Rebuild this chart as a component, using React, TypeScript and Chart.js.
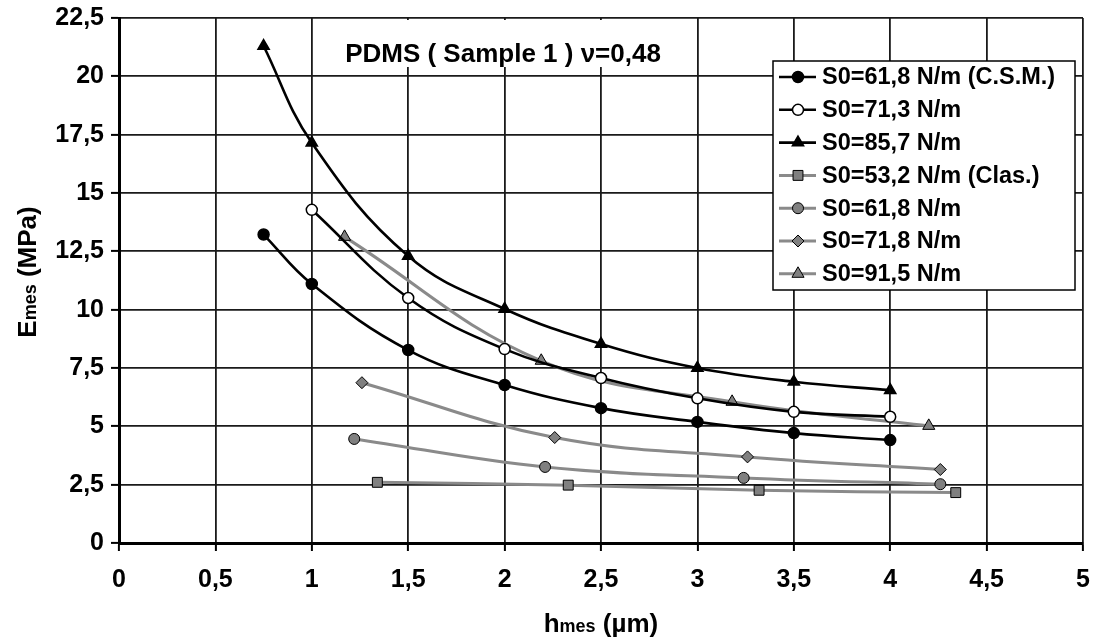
import React, { useEffect, useRef } from 'react';
import { Chart, registerables } from 'chart.js';

Chart.register(...registerables);

// ---- Data ----
const s1X = [0.75, 1, 1.5, 2, 2.5, 3, 3.5, 4];
const s1Y = [13.22, 11.1, 8.27, 6.77, 5.78, 5.19, 4.71, 4.41];
const s2X = [1, 1.5, 2, 2.5, 3, 3.5, 4];
const s2Y = [14.28, 10.5, 8.31, 7.07, 6.2, 5.62, 5.41];
const s3X = [0.75, 1, 1.5, 2, 2.5, 3, 3.5, 4];
const s3Y = [21.3, 17.15, 12.3, 10.03, 8.53, 7.5, 6.91, 6.55];
const s4X = [1.34, 2.33, 3.32, 4.34];
const s4Y = [2.6, 2.48, 2.26, 2.16];
const s5X = [1.22, 2.21, 3.24, 4.26];
const s5Y = [4.46, 3.26, 2.79, 2.52];
const s6X = [1.26, 2.26, 3.26, 4.26];
const s6Y = [6.87, 4.52, 3.69, 3.15];
const s7X = [1.17, 2.19, 3.18, 4.2];
const s7Y = [13.12, 7.81, 6.05, 5.02];

const seriesLabels = [
  'S0=61,8 N/m (C.S.M.)',
  'S0=71,3 N/m',
  'S0=85,7 N/m',
  'S0=53,2 N/m (Clas.)',
  'S0=61,8 N/m',
  'S0=71,8 N/m',
  'S0=91,5 N/m',
];

const xTickLabels = ['0', '0,5', '1', '1,5', '2', '2,5', '3', '3,5', '4', '4,5', '5'];
const yTickLabels = ['0', '2,5', '5', '7,5', '10', '12,5', '15', '17,5', '20', '22,5'];

const chartTitle = 'PDMS ( Sample 1 ) \u03bd=0,48';
const xTitleMain = 'h';
const xTitleSub = 'mes';
const xTitleRest = ' (\u00b5m)';
const yTitleMain = 'E';
const yTitleSub = 'mes';
const yTitleRest = ' (MPa)';

const zip = (xs: number[], ys: number[]) => xs.map((x, i) => ({ x, y: ys[i] }));

const FONT = '"Liberation Sans", Arial, sans-serif';
const BLACK = '#000000';
const GRAY_LINE = '#8a8a8a';
const GRAY_FILL = '#808080';

type Style = {
  line: string;
  lineWidth: number;
  fill: string;
  shape: 'circle' | 'triangle' | 'rect' | 'rectRot';
  radius: number;
};

const styles: Style[] = [
  { line: BLACK, lineWidth: 2.6, fill: BLACK, shape: 'circle', radius: 5.5 },
  { line: BLACK, lineWidth: 2.6, fill: '#ffffff', shape: 'circle', radius: 5.5 },
  { line: BLACK, lineWidth: 2.6, fill: BLACK, shape: 'triangle', radius: 6.5 },
  { line: GRAY_LINE, lineWidth: 3, fill: GRAY_FILL, shape: 'rect', radius: 7 },
  { line: GRAY_LINE, lineWidth: 3, fill: GRAY_FILL, shape: 'circle', radius: 5.5 },
  { line: GRAY_LINE, lineWidth: 3, fill: GRAY_FILL, shape: 'rectRot', radius: 6 },
  { line: GRAY_LINE, lineWidth: 3, fill: GRAY_FILL, shape: 'triangle', radius: 7 },
];

function drawMarker(ctx: CanvasRenderingContext2D, shape: string, x: number, y: number, r: number) {
  ctx.beginPath();
  if (shape === 'circle') {
    ctx.arc(x, y, r, 0, Math.PI * 2);
  } else if (shape === 'triangle') {
    for (let k = 0; k < 3; k++) {
      const a = -Math.PI / 2 + (k * 2 * Math.PI) / 3;
      const px = x + Math.cos(a) * r;
      const py = y + Math.sin(a) * r;
      if (k === 0) ctx.moveTo(px, py);
      else ctx.lineTo(px, py);
    }
    ctx.closePath();
  } else if (shape === 'rect') {
    const s = Math.SQRT1_2 * r;
    ctx.rect(x - s, y - s, 2 * s, 2 * s);
  } else if (shape === 'rectRot') {
    ctx.moveTo(x, y - r);
    ctx.lineTo(x + r, y);
    ctx.lineTo(x, y + r);
    ctx.lineTo(x - r, y);
    ctx.closePath();
  }
  ctx.fill();
  ctx.stroke();
}

const decorPlugin = {
  id: 'decor',
  beforeDatasetsDraw(chart: any) {
    const ctx: CanvasRenderingContext2D = chart.ctx;
    const ca = chart.chartArea;
    ctx.save();
    // title box (white, covers grid)
    ctx.fillStyle = '#ffffff';
    ctx.fillRect(318, ca.top + 2, 372, 47);
    ctx.fillStyle = '#000';
    ctx.font = `bold 26px ${FONT}`;
    ctx.textAlign = 'center';
    ctx.textBaseline = 'alphabetic';
    ctx.fillText(chartTitle, 503, 62);
    ctx.restore();
  },
  afterDatasetsDraw(chart: any) {
    const ctx: CanvasRenderingContext2D = chart.ctx;
    ctx.save();
    // legend
    const lx = 773, ly = 61, lw = 302, lh = 229;
    ctx.fillStyle = '#ffffff';
    ctx.fillRect(lx, ly, lw, lh);
    ctx.strokeStyle = '#000';
    ctx.lineWidth = 1.5;
    ctx.strokeRect(lx, ly, lw, lh);
    const rowH = 32.8;
    ctx.font = `bold 23.5px ${FONT}`;
    ctx.textAlign = 'left';
    ctx.textBaseline = 'middle';
    seriesLabels.forEach((lab, i) => {
      const st = styles[i];
      const cy = ly + 16 + i * rowH;
      ctx.strokeStyle = st.line;
      ctx.lineWidth = st.lineWidth;
      ctx.beginPath();
      ctx.moveTo(lx + 6, cy);
      ctx.lineTo(lx + 43, cy);
      ctx.stroke();
      ctx.fillStyle = st.fill;
      ctx.strokeStyle = '#000';
      ctx.lineWidth = st.line === BLACK ? 1.5 : 1;
      drawMarker(ctx, st.shape, lx + 25, cy, st.radius);
      ctx.fillStyle = '#000';
      ctx.fillText(lab, lx + 49, cy + 1);
    });
    ctx.restore();
  },
  afterDraw(chart: any) {
    const ctx: CanvasRenderingContext2D = chart.ctx;
    const ca = chart.chartArea;
    ctx.save();
    ctx.fillStyle = '#000';
    ctx.textBaseline = 'alphabetic';
    ctx.textAlign = 'left';
    // x title
    const big = `bold 26px ${FONT}`;
    const small = `bold 18px ${FONT}`;
    ctx.font = big;
    const w1 = ctx.measureText(xTitleMain).width;
    const w3 = ctx.measureText(xTitleRest).width;
    ctx.font = small;
    const w2 = ctx.measureText(xTitleSub).width;
    const total = w1 + w2 + w3;
    const x0 = (ca.left + ca.right) / 2 - total / 2;
    const by = 632;
    ctx.font = big;
    ctx.fillText(xTitleMain, x0, by);
    ctx.font = small;
    ctx.fillText(xTitleSub, x0 + w1, by);
    ctx.font = big;
    ctx.fillText(xTitleRest, x0 + w1 + w2, by);

    // y title (rotated)
    ctx.font = big;
    const v1 = ctx.measureText(yTitleMain).width;
    const v3 = ctx.measureText(yTitleRest).width;
    ctx.font = small;
    const v2 = ctx.measureText(yTitleSub).width;
    const vt = v1 + v2 + v3;
    ctx.translate(27, 272);
    ctx.rotate(-Math.PI / 2);
    const s0 = -vt / 2;
    const bl = 9;
    ctx.font = big;
    ctx.fillText(yTitleMain, s0, bl);
    ctx.font = small;
    ctx.fillText(yTitleSub, s0 + v1, bl);
    ctx.font = big;
    ctx.fillText(yTitleRest, s0 + v1 + v2, bl);
    ctx.restore();
  },
};

export default function App() {
  const canvasRef = useRef<HTMLCanvasElement | null>(null);

  useEffect(() => {
    if (!canvasRef.current) return;
    const xs = [s1X, s2X, s3X, s4X, s5X, s6X, s7X];
    const ys = [s1Y, s2Y, s3Y, s4Y, s5Y, s6Y, s7Y];
    const datasets = seriesLabels.map((label, i) => {
      const st = styles[i];
      return {
        label,
        data: zip(xs[i], ys[i]),
        showLine: true,
        borderColor: st.line,
        borderWidth: st.lineWidth,
        tension: 0.4,
        pointStyle: st.shape,
        pointRadius: st.radius,
        pointHoverRadius: st.radius,
        pointBackgroundColor: st.fill,
        pointBorderColor: '#000',
        pointBorderWidth: st.line === BLACK ? 1.5 : 1,
        fill: false,
      };
    });

    const chart = new Chart(canvasRef.current, {
      type: 'scatter',
      data: { datasets: datasets as any },
      options: {
        animation: false,
        responsive: true,
        maintainAspectRatio: false,
        layout: { autoPadding: false, padding: { top: 18, right: 10, left: 0, bottom: 0 } },
        plugins: {
          legend: { display: false },
          tooltip: { enabled: false },
          title: { display: false },
        },
        scales: {
          x: {
            type: 'linear',
            min: 0,
            max: 5,
            afterFit: (scale: any) => {
              scale.height = 101;
              scale.paddingLeft = 0;
              scale.paddingRight = 0;
            },
            ticks: {
              stepSize: 0.5,
              color: '#000',
              font: { family: FONT, size: 25, weight: 'bold' },
              padding: 14,
              callback: (_v: any, i: number) => xTickLabels[i],
              maxRotation: 0,
            },
            grid: {
              color: '#1a1a1a',
              lineWidth: 1.8,
              tickLength: 8,
              tickColor: '#000',
              tickWidth: 2,
            },
            border: { display: true, color: '#000', width: 3 },
          },
          y: {
            type: 'linear',
            min: 0,
            max: 22.5,
            afterFit: (scale: any) => {
              scale.width = 119;
              scale.paddingTop = 0;
              scale.paddingBottom = 0;
            },
            ticks: {
              stepSize: 2.5,
              color: '#000',
              font: { family: FONT, size: 25, weight: 'bold' },
              padding: 7,
              callback: (_v: any, i: number) => yTickLabels[i],
            },
            grid: {
              color: '#1a1a1a',
              lineWidth: 1.8,
              tickLength: 8,
              tickColor: '#000',
              tickWidth: 2,
            },
            border: { display: true, color: '#000', width: 3 },
          },
        },
      } as any,
      plugins: [decorPlugin],
    });
    return () => chart.destroy();
  }, []);

  return (
    <div style={{ position: 'absolute', left: 0, top: 0, width: 1093, height: 644, background: '#fff' }}>
      <canvas ref={canvasRef} />
    </div>
  );
}
